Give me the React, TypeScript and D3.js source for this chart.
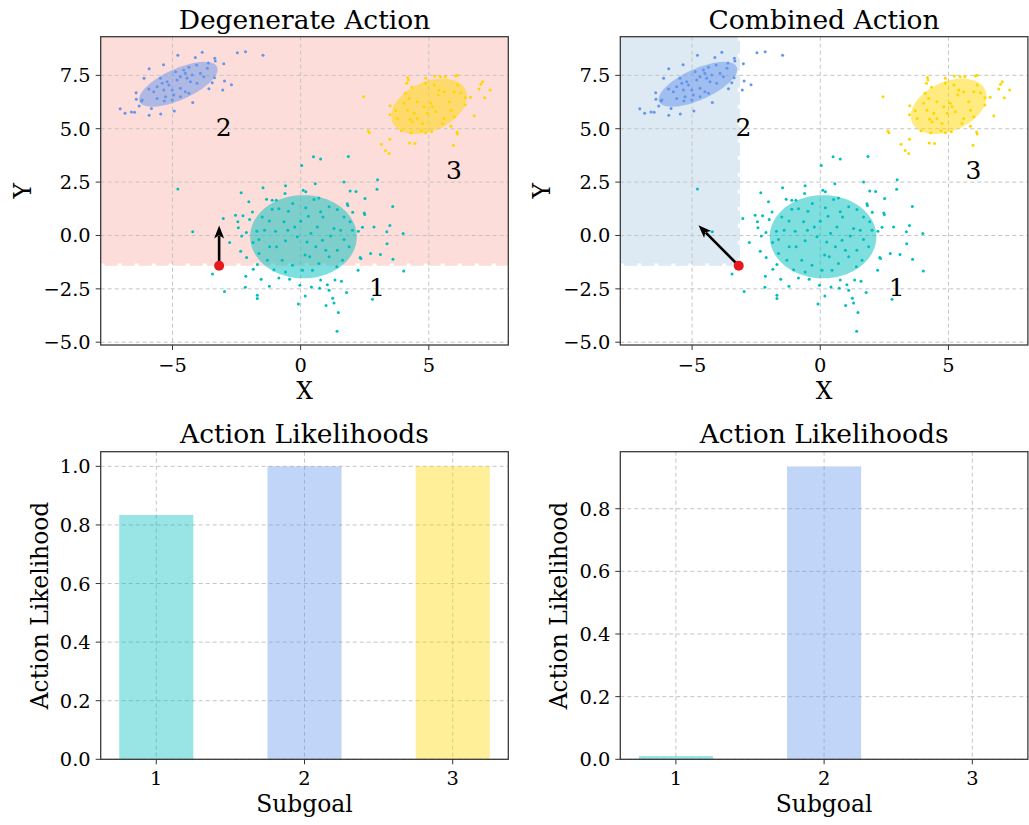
import React from 'react';
import * as d3 from 'd3';

const FONT = '"DejaVu Serif", serif';

// ---------- data ----------
const xDomain: [number, number] = [-7.8, 8.1];
const yDomain: [number, number] = [-5.13, 9.31];
const xTicks = [-5, 0, 5];
const yTicks = [-5, -2.5, 0, 2.5, 5, 7.5];

const agentPos: [number, number] = [-3.18, -1.42];
const degenerateTip: [number, number] = [-3.18, 0.47];
const combinedTip: [number, number] = [-4.75, 0.48];

// shaded regions [x0, x1, y0, y1]
const degenerateRegion = [-7.8, 8.1, -1.42, 9.31];
const combinedRegion = [-7.8, -3.13, -1.42, 9.31];

// goal ellipses: cx, cy, semi-major, semi-minor, angle(deg)
const ellipse1 = [0.11, -0.06, 2.08, 1.95, 0];
const ellipse2 = [-4.77, 7.08, 1.72, 0.7, 30];
const ellipse3 = [5.01, 6.05, 1.63, 1.1, 35];

const goalLabels = ['1', '2', '3'];
const goalLabelX = [2.98, -3.0, 5.98];
const goalLabelY = [-2.41, 5.09, 3.06];

const goal1Points: [number, number][] = [
  [-4.79, 2.18], [-4.21, 0.17], [-3.02, 0.8], [-3.44, -1.81], [-2.97, -2.63], [-2.32, 2.0], [-2.02, 1.58],
  [-1.47, 2.23], [-2.54, 0.95], [-2.25, 0.92], [-2.45, 0.64], [-2.43, 0.36], [-1.88, 1.1], [-1.99, 0.75],
  [-2.12, 0.14], [-2.3, -0.03], [-2.77, -0.33], [-2.34, -0.74], [-2.11, -1.03], [-1.69, -1.36], [-1.85, -1.58],
  [-2.14, -1.91], [-1.54, -2.05], [-1.22, -2.38], [-2.16, -2.42], [-1.69, -2.8], [-1.69, -2.95], [-0.85, -1.99],
  [-0.43, -2.05], [-0.03, -2.33], [-0.09, -3.21], [0.18, -2.83], [-0.59, 2.33], [-0.61, 1.97], [0.1, 2.12],
  [0.2, 2.05], [0.04, 3.28], [-1.33, 1.7], [-1.11, 1.65], [-0.95, 1.65],
  [-1.11, 1.23], [-0.85, 1.25], [-0.48, 1.14], [-0.31, 1.5], [-1.5, 0.87], [-1.22, 0.68], [-0.65, 0.64],
  [0, 0.67], [-1.71, 0.2], [-1.41, 0.25], [-0.98, 0.2], [-0.5, 0.25], [-0.23, 0.4], [-1.86, -0.33],
  [-1.63, -0.19], [-1.21, -0.53], [-0.94, -0.53], [-0.59, -0.25], [-0.13, -0.06], [-1.63, -0.84],
  [-1.3, -1.16], [-0.72, -1.16], [-0.32, -1.39], [0.17, -0.92], [0.07, -1.63], [-0.59, -1.71], [-1.04, -1.6],
  [1.86, 3.7], [0.78, 3.58], [0.5, 3.69], [0.57, 2.42], [1.69, 2.5], [3.0, 2.61], [2.98, 2.17], [1.93, 2.08],
  [2.16, 2.06], [2.51, 1.73], [1.82, 1.48], [1.84, 1.4], [2.48, 1.05], [2.5, 0.98], [3.59, 1.36], [2.03, 1.09],
  [3.48, 0.47], [2.86, 0.4], [2.41, 0.38], [2.25, 0.2], [3.36, 0.17], [4.0, 0.09], [3.37, -0.39], [2.73, -0.84],
  [3.11, -0.89], [2.32, -1.03], [2.35, -1.08], [3.6, -1.11], [4.02, -1.66], [2.24, -1.63], [1.34, -2.08],
  [1.59, -2.14], [0.78, -2.08], [1.04, -2.31], [1.11, -2.56], [0.74, -2.47], [1.79, -2.67], [2.8, -2.99],
  [1.25, -2.94], [1.3, -3.16], [0.99, -3.28], [1.47, -3.61], [1.42, -4.49], [0.42, -2.41],
  [0.52, 1.69], [0.71, 1.76], [1.11, 1.34], [1.43, 1.22], [0.78, 1.11], [0.87, 0.87], [1.69, 0.87],
  [1.93, 0.64], [1.3, 0.33], [0.65, 0.4], [1.56, 0.25], [2.02, 0.25], [0.85, -0.22], [1.17, -0.03],
  [1.69, -0.19], [0.59, -0.53], [0.98, -0.69], [1.43, -0.69], [1.89, -0.53], [1.11, -1.0], [1.63, -1.16],
  [0.71, -1.31], [1.41, -1.47], [0.46, -1.63], [0.3, 0.9], [0.25, -0.3], [0.35, -1.0], [0.2, 1.3], [0.4, 0.1],
];

const goal2Points: [number, number][] = [
  [-4.79, 8.44], [-4.11, 8.34], [-3.84, 8.58], [-2.47, 8.56], [-2.15, 8.61], [-1.47, 8.44], [-5.35, 8.0],
  [-5.91, 7.81], [-6.11, 7.36], [-6.42, 6.69], [-6.41, 6.38], [-6.21, 6.3], [-6.3, 6.06], [-7.04, 5.94],
  [-6.85, 5.72], [-6.6, 5.78], [-6.48, 5.77], [-5.82, 5.95], [-5.91, 5.63], [-5.46, 5.69], [-4.93, 5.83],
  [-5.32, 6.3], [-4.21, 6.23], [-3.58, 6.87], [-3.04, 6.81], [-2.7, 7.06], [-2.97, 7.23], [-3.35, 8.3],
  [-3.33, 8.17], [-3.0, 8.04], [-3.6, 8.08], [-4.06, 7.98], [-3.36, 7.39], [-3.45, 7.15],
  [-5.92, 6.86], [-5.73, 6.73], [-5.6, 6.97], [-5.4, 7.13], [-5.34, 6.81], [-5.14, 7.05], [-5.01, 6.81],
  [-5.6, 6.42], [-5.27, 6.5], [-5.01, 6.34], [-4.69, 7.44], [-4.56, 7.75], [-4.36, 7.88], [-4.43, 7.36],
  [-4.3, 7.2], [-4.69, 6.89], [-4.5, 6.73], [-4.36, 6.66], [-4.69, 6.5], [-3.91, 7.6], [-3.78, 7.44],
  [-4.04, 7.13], [-4.82, 7.28], [-4.88, 7.67], [-5.47, 7.36], [-5.21, 7.2], [-6.18, 6.34], [-4.23, 7.52],
  [-3.64, 7.83], [-4.5, 7.6], [-4.95, 6.58],
];

const goal3Points: [number, number][] = [
  [2.45, 6.5], [5.23, 7.47], [5.46, 7.44], [5.64, 7.44], [6.05, 7.47], [6.12, 7.5], [4.88, 7.36], [4.2, 7.28],
  [4.14, 7.13], [4.18, 7.4], [4.34, 6.94], [4.88, 7.13], [7.1, 7.2], [7.03, 7.08], [6.96, 6.86], [7.39, 6.81],
  [7.18, 6.45], [6.63, 6.47], [6.42, 6.45], [6.42, 6.11], [6.77, 5.61], [3.49, 6.08], [3.48, 5.65], [3.71, 5.84],
  [2.64, 4.89], [2.68, 4.81], [3.93, 4.9], [4.31, 4.81], [4.71, 4.9], [4.88, 4.81], [5.11, 4.86], [5.86, 5.12],
  [6.12, 4.75], [6.1, 4.85], [3.48, 4.51], [3.15, 4.27], [4.25, 4.33], [4.46, 4.31], [3.31, 3.98], [3.45, 3.84],
  [5.96, 4.23],
  [4.09, 6.66], [4.23, 6.42], [4.03, 6.19], [4.55, 6.26], [4.17, 5.87], [4.43, 5.72], [4.55, 5.48], [4.36, 5.33],
  [4.75, 5.25], [5.07, 6.19], [5.14, 6.03], [5.36, 6.58], [5.4, 6.81], [5.6, 6.73], [5.79, 6.26], [5.86, 5.87],
  [5.6, 5.48], [5.53, 5.25], [5.99, 6.73], [6.12, 7.05], [6.25, 6.69], [5.27, 5.79], [4.95, 5.72], [4.82, 6.03],
  [5.21, 7.05], [3.78, 5.48], [4.27, 5.44], [5.99, 5.56],
];

const subgoals = ['1', '2', '3'];
const degenerateLikelihood = [0.834, 1.0, 1.0];
const combinedLikelihood = [0.0105, 0.935, 0.0];
const barTicksLeft = [0, 0.2, 0.4, 0.6, 0.8, 1.0];
const barTicksRight = [0, 0.2, 0.4, 0.6, 0.8];

// ---------- styles ----------
const goalDotColors = ['#00bfbf', '#6495ed', '#ffd700'];
const goalFillColors = ['#00bfbf', '#6495ed', '#ffd700'];
const GRID = '#c4c4c4';
const SPINE = '#333333';
const TICK_FS = 19.4;
const LABEL_FS = 23.4;
const TITLE_FS = 26.5;

type Box = { left: number; top: number; width: number; height: number };

function ellipsePath(e: number[], x: d3.ScaleLinear<number, number>, y: d3.ScaleLinear<number, number>) {
  const [cx, cy, a, b, angDeg] = e;
  const t = (angDeg * Math.PI) / 180;
  const pts: [number, number][] = d3.range(0, 361, 4).map((deg) => {
    const p = (deg * Math.PI) / 180;
    const ex = a * Math.cos(p);
    const ey = b * Math.sin(p);
    return [cx + ex * Math.cos(t) - ey * Math.sin(t), cy + ex * Math.sin(t) + ey * Math.cos(t)];
  });
  return d3.line<[number, number]>().x((d) => x(d[0])).y((d) => y(d[1])).curve(d3.curveLinearClosed)(pts) || '';
}

function ScatterPanel({ box, title, region, tip, clipId, regionColor, vertical }: {
  box: Box; title: string; region: number[]; tip: [number, number]; clipId: string; regionColor: string; vertical: boolean;
}) {
  const { left, top, width, height } = box;
  const x = d3.scaleLinear().domain(xDomain).range([left, left + width]);
  const y = d3.scaleLinear().domain(yDomain).range([top + height, top]);
  const fmtY = d3.format('.1f');
  const fmtX = d3.format('d');
  const rx0 = x(region[0]), rx1 = x(region[1]), ry0 = y(region[2]), ry1 = y(region[3]);
  const sx = x(agentPos[0]), sy = y(agentPos[1]);
  const tx = x(tip[0]), ty = y(tip[1]);
  const len = Math.hypot(tx - sx, ty - sy);
  const ux = (tx - sx) / len, uy = (ty - sy) / len;
  const nx = -uy, ny = ux;
  const hl = 13, hw = 5;
  const head = [
    [tx, ty],
    [tx - ux * hl + nx * hw, ty - uy * hl + ny * hw],
    [tx - ux * hl * 0.75, ty - uy * hl * 0.75],
    [tx - ux * hl - nx * hw, ty - uy * hl - ny * hw],
  ].map((p) => p.join(',')).join(' ');
  const ellipses = [ellipse1, ellipse2, ellipse3];
  const pointSets = [goal1Points, goal2Points, goal3Points];
  return (
    <g>
      <defs>
        <clipPath id={clipId}>
          <rect x={left} y={top} width={width} height={height} />
        </clipPath>
      </defs>
      <g clipPath={`url(#${clipId})`}>
        <rect x={rx0} y={ry1} width={rx1 - rx0} height={ry0 - ry1} fill={regionColor} />
        <line x1={rx0} x2={rx1} y1={ry0 - 1} y2={ry0 - 1} stroke="#fff" strokeWidth={2.5} strokeDasharray="4 13" />
        {vertical && (
          <line x1={rx1 - 1} x2={rx1 - 1} y1={ry1} y2={ry0} stroke="#fff" strokeWidth={2.5} strokeDasharray="4 13" />
        )}
        {xTicks.map((t) => (
          <line key={'gx' + t} x1={x(t)} x2={x(t)} y1={top} y2={top + height} stroke={GRID} strokeWidth={1} strokeDasharray="4 3" />
        ))}
        {yTicks.map((t) => (
          <line key={'gy' + t} x1={left} x2={left + width} y1={y(t)} y2={y(t)} stroke={GRID} strokeWidth={1} strokeDasharray="4 3" />
        ))}
        {ellipses.map((e, i) => (
          <path key={'e' + i} d={ellipsePath(e, x, y)} fill={goalFillColors[i]} fillOpacity={0.5} />
        ))}
        {pointSets.map((pts, i) =>
          pts.map((p, j) => (
            <circle key={`p${i}-${j}`} cx={x(p[0])} cy={y(p[1])} r={1.5} fill={goalDotColors[i]} />
          ))
        )}
        <line x1={sx} y1={sy} x2={tx - ux * hl * 0.8} y2={ty - uy * hl * 0.8} stroke="#000" strokeWidth={2.6} />
        <polygon points={head} fill="#000" />
        <circle cx={sx} cy={sy} r={5} fill="#e8191c" />
        {goalLabels.map((l, i) => (
          <text key={'l' + i} x={x(goalLabelX[i])} y={y(goalLabelY[i])} dy="0.36em" textAnchor="middle" fontSize={25} fontFamily={FONT} fill="#000">{l}</text>
        ))}
      </g>
      <rect x={left} y={top} width={width} height={height} fill="none" stroke={SPINE} strokeWidth={1.25} />
      {xTicks.map((t) => (
        <g key={'tx' + t}>
          <line x1={x(t)} x2={x(t)} y1={top + height} y2={top + height + 5} stroke={SPINE} strokeWidth={1} />
          <text x={x(t)} y={top + height + 27} textAnchor="middle" fontSize={TICK_FS} fontFamily={FONT}>{fmtX(t)}</text>
        </g>
      ))}
      {yTicks.map((t) => (
        <g key={'ty' + t}>
          <line x1={left - 5} x2={left} y1={y(t)} y2={y(t)} stroke={SPINE} strokeWidth={1} />
          <text x={left - 10} y={y(t)} dy="0.36em" textAnchor="end" fontSize={TICK_FS} fontFamily={FONT}>{fmtY(t)}</text>
        </g>
      ))}
      <text x={left + width / 2} y={top - 8} textAnchor="middle" fontSize={TITLE_FS} fontFamily={FONT}>{title}</text>
      <text x={left + width / 2} y={top + height + 54} textAnchor="middle" fontSize={LABEL_FS} fontFamily={FONT}>X</text>
      <text transform={`translate(${left - 70},${top + height / 2}) rotate(-90)`} textAnchor="middle" fontSize={LABEL_FS} fontFamily={FONT}>Y</text>
    </g>
  );
}

function BarPanel({ box, values, yMax, ticks }: { box: Box; values: number[]; yMax: number; ticks: number[] }) {
  const { left, top, width, height } = box;
  const x = d3.scaleLinear().domain([0.625, 3.375]).range([left, left + width]);
  const y = d3.scaleLinear().domain([0, yMax]).range([top + height, top]);
  const fmt = d3.format('.1f');
  const nums = subgoals.map((s) => +s);
  return (
    <g>
      {nums.map((t) => (
        <line key={'gx' + t} x1={x(t)} x2={x(t)} y1={top} y2={top + height} stroke={GRID} strokeWidth={1} strokeDasharray="4 3" />
      ))}
      {ticks.map((t) => (
        <line key={'gy' + t} x1={left} x2={left + width} y1={y(t)} y2={y(t)} stroke={GRID} strokeWidth={1} strokeDasharray="4 3" />
      ))}
      {values.map((v, i) => (
        <rect key={'b' + i} x={x(nums[i] - 0.25)} width={x(nums[i] + 0.25) - x(nums[i] - 0.25)} y={y(v)} height={y(0) - y(v)} fill={goalFillColors[i]} fillOpacity={0.4} />
      ))}
      <rect x={left} y={top} width={width} height={height} fill="none" stroke={SPINE} strokeWidth={1.25} />
      {nums.map((t, i) => (
        <g key={'tx' + t}>
          <line x1={x(t)} x2={x(t)} y1={top + height} y2={top + height + 5} stroke={SPINE} strokeWidth={1} />
          <text x={x(t)} y={top + height + 26} textAnchor="middle" fontSize={TICK_FS} fontFamily={FONT}>{subgoals[i]}</text>
        </g>
      ))}
      {ticks.map((t) => (
        <g key={'ty' + t}>
          <line x1={left - 5} x2={left} y1={y(t)} y2={y(t)} stroke={SPINE} strokeWidth={1} />
          <text x={left - 10} y={y(t)} dy="0.36em" textAnchor="end" fontSize={TICK_FS} fontFamily={FONT}>{fmt(t)}</text>
        </g>
      ))}
      <text x={left + width / 2} y={top - 9} textAnchor="middle" fontSize={TITLE_FS} fontFamily={FONT}>Action Likelihoods</text>
      <text x={left + width / 2} y={top + height + 53} textAnchor="middle" fontSize={LABEL_FS} fontFamily={FONT}>Subgoal</text>
      <text transform={`translate(${left - 53},${top + height / 2}) rotate(-90)`} textAnchor="middle" fontSize={LABEL_FS} fontFamily={FONT}>Action Likelihood</text>
    </g>
  );
}

export default function App() {
  const W = 1029, H = 825;
  const tl: Box = { left: 100.7, top: 36.7, width: 407.6, height: 308.3 };
  const tr: Box = { left: 620.3, top: 36.7, width: 407.6, height: 308.3 };
  const bl: Box = { left: 100.7, top: 451.7, width: 407.6, height: 307.6 };
  const br: Box = { left: 620.3, top: 451.7, width: 407.6, height: 307.6 };
  return (
    <svg width={W} height={H} style={{ position: 'absolute', left: 0, top: 0, background: '#fff' }} fontFamily={FONT}>
      <rect width={W} height={H} fill="#fff" />
      <ScatterPanel box={tl} title="Degenerate Action" region={degenerateRegion} tip={degenerateTip} clipId="c1" regionColor="#fdddd9" vertical={false} />
      <ScatterPanel box={tr} title="Combined Action" region={combinedRegion} tip={combinedTip} clipId="c2" regionColor="#dde9f3" vertical={true} />
      <BarPanel box={bl} values={degenerateLikelihood} yMax={1.05} ticks={barTicksLeft} />
      <BarPanel box={br} values={combinedLikelihood} yMax={0.982} ticks={barTicksRight} />
    </svg>
  );
}
